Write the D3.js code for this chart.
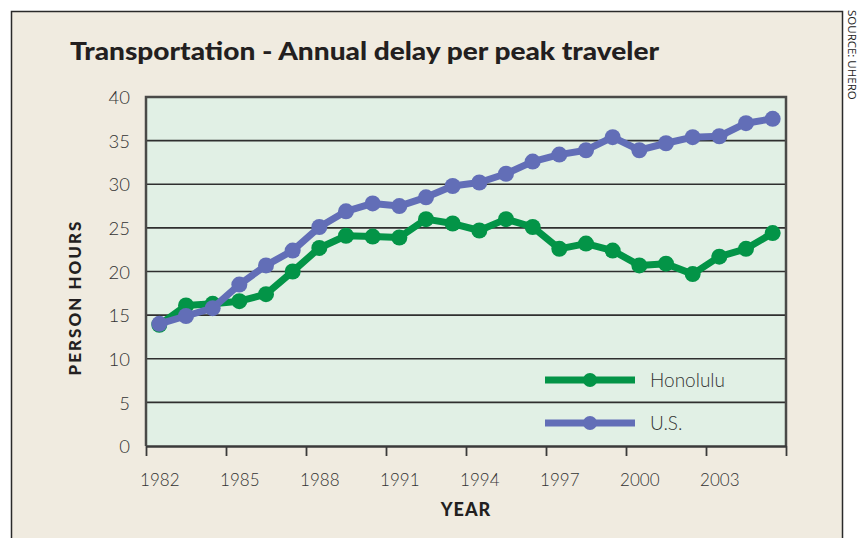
<!DOCTYPE html>
<html>
<head>
<meta charset="utf-8">
<script src="https://cdn.jsdelivr.net/npm/d3@7"></script>
<style>
  html, body { margin: 0; padding: 0; background: #ffffff; }
  svg { display: block; }
</style>
</head>
<body>
<svg id="chart" width="860" height="538"></svg>
<script>
// ---- data ----
const years = [1982,1983,1984,1985,1986,1987,1988,1989,1990,1991,1992,1993,1994,1995,1996,1997,1998,1999,2000,2001,2002,2003,2004,2005];
const honolulu = [13.9,16.1,16.3,16.6,17.4,20.0,22.7,24.1,24.0,23.9,26.0,25.5,24.7,26.0,25.1,22.6,23.2,22.4,20.7,20.9,19.7,21.7,22.6,24.4];
const us = [14.0,14.9,15.8,18.5,20.7,22.4,25.1,26.9,27.8,27.5,28.5,29.8,30.2,31.2,32.6,33.4,33.9,35.4,33.9,34.7,35.4,35.5,37.0,37.5];
const xTickYears = [1982,1985,1988,1991,1994,1997,2000,2003];
const yTicks = [0,5,10,15,20,25,30,35,40];
const seriesNames = ["Honolulu","U.S."];
const seriesColors = ["#039447","#626eb7"];
const title = "Transportation - Annual delay per peak traveler";
const yTitle = "PERSON HOURS";
const xTitle = "YEAR";
const source = "SOURCE: UHERO";

// ---- layout ----
const svg = d3.select("#chart");
const plot = {left: 146, right: 786, top: 97, bottom: 446};
const x = d3.scaleLinear().domain([years[0] - 0.5, years[years.length - 1] + 0.5]).range([plot.left, plot.right]);
const y = d3.scaleLinear().domain([0, 40]).range([plot.bottom, plot.top]);

const lightFont = "'Lato', 'Open Sans', sans-serif";
const boldFont = "'Lato', 'Open Sans', sans-serif";

// page background + frame
svg.append("rect").attr("x", 0).attr("y", 0).attr("width", 860).attr("height", 538).attr("fill", "#ffffff");
svg.append("rect").attr("x", 11.5).attr("y", 11.5).attr("width", 831).attr("height", 540)
  .attr("fill", "#f0ebe0").attr("stroke", "#2a2a2a").attr("stroke-width", 1.5);

// source text
svg.append("text")
  .attr("transform", "translate(851,10) rotate(90)")
  .attr("font-family", "'Open Sans', sans-serif")
  .attr("font-size", 11.5)
  .attr("fill", "#222")
  .attr("dominant-baseline", "middle")
  .text(source);

// title
svg.append("text")
  .attr("x", 70).attr("y", 60)
  .attr("font-family", boldFont).attr("font-weight", 900)
  .attr("font-size", 24).attr("fill", "#231f20")
  .attr("textLength", 589).attr("lengthAdjust", "spacingAndGlyphs")
  .text(title);

// plot background
svg.append("rect")
  .attr("x", plot.left).attr("y", plot.top)
  .attr("width", plot.right - plot.left).attr("height", plot.bottom - plot.top)
  .attr("fill", "#e1f0e5");

// gridlines
svg.append("g").selectAll("line").data(yTicks.filter(d => d > 0 && d < 40)).join("line")
  .attr("x1", plot.left).attr("x2", plot.right)
  .attr("y1", d => y(d)).attr("y2", d => y(d))
  .attr("stroke", "#2f2f2f").attr("stroke-width", 1.6);

// plot border: top, left, right
svg.append("path")
  .attr("d", `M${plot.left},${plot.bottom} V${plot.top} H${plot.right} V${plot.bottom}`)
  .attr("fill", "none").attr("stroke", "#4a4a48").attr("stroke-width", 2.5);

// x axis (tick marks at band edges)
const tickMarks = xTickYears.map(d => d - 0.5).concat([years[years.length - 1] + 0.5]);
const xAxis = svg.append("g").attr("transform", `translate(0,${plot.bottom})`)
  .call(d3.axisBottom(x).tickValues(tickMarks).tickSize(10).tickSizeOuter(0).tickFormat(""));
xAxis.select(".domain").attr("stroke", "#3a3a3a").attr("stroke-width", 2.5);
xAxis.selectAll(".tick line").attr("stroke", "#3a3a3a").attr("stroke-width", 1.8);

// x labels centered on years
const xLab = svg.append("g").attr("transform", `translate(0,${plot.bottom})`)
  .call(d3.axisBottom(x).tickValues(xTickYears).tickSize(0).tickFormat(d3.format("d")));
xLab.select(".domain").remove();
xLab.selectAll(".tick text")
  .attr("y", 40).attr("dy", 0)
  .attr("font-family", lightFont).attr("font-weight", 300)
  .attr("font-size", 17).attr("fill", "#333");

// y labels
const yLab = svg.append("g").attr("transform", `translate(${plot.left},0)`)
  .call(d3.axisLeft(y).tickValues(yTicks).tickSize(0).tickFormat(d3.format("d")));
yLab.select(".domain").remove();
yLab.selectAll(".tick text")
  .attr("x", -16).attr("dy", "0.36em")
  .attr("font-family", lightFont).attr("font-weight", 300)
  .attr("font-size", 18.5).attr("fill", "#333");

// axis titles
svg.append("text")
  .attr("x", (plot.left + plot.right) / 2).attr("y", 516)
  .attr("text-anchor", "middle")
  .attr("font-family", boldFont).attr("font-weight", 900)
  .attr("font-size", 18).attr("fill", "#231f20")
  .attr("letter-spacing", 1)
  .text(xTitle);
svg.append("text")
  .attr("transform", `translate(81,${(plot.top + plot.bottom) / 2 + 26}) rotate(-90)`)
  .attr("text-anchor", "middle")
  .attr("font-family", boldFont).attr("font-weight", 900)
  .attr("font-size", 17).attr("fill", "#231f20")
  .attr("letter-spacing", 2)
  .text(yTitle);

// series
const series = [honolulu, us];
const line = d3.line().x((d, i) => x(years[i])).y(d => y(d));
series.forEach((vals, si) => {
  const g = svg.append("g");
  g.append("path").datum(vals)
    .attr("d", line)
    .attr("fill", "none")
    .attr("stroke", seriesColors[si])
    .attr("stroke-width", 7)
    .attr("stroke-linejoin", "round");
  g.selectAll("circle").data(vals).join("circle")
    .attr("cx", (d, i) => x(years[i]))
    .attr("cy", d => y(d))
    .attr("r", 8)
    .attr("fill", seriesColors[si]);
});

// legend
const legY = [380, 423];
seriesNames.forEach((name, i) => {
  const g = svg.append("g");
  g.append("line")
    .attr("x1", 545).attr("x2", 635)
    .attr("y1", legY[i]).attr("y2", legY[i])
    .attr("stroke", seriesColors[i]).attr("stroke-width", 7);
  g.append("circle").attr("cx", 590).attr("cy", legY[i]).attr("r", 7).attr("fill", seriesColors[i]);
  g.append("text")
    .attr("x", 650).attr("y", legY[i]).attr("dy", "0.36em")
    .attr("font-family", lightFont).attr("font-weight", 300)
    .attr("font-size", 19).attr("fill", "#333")
    .text(name);
});
</script>
</body>
</html>
